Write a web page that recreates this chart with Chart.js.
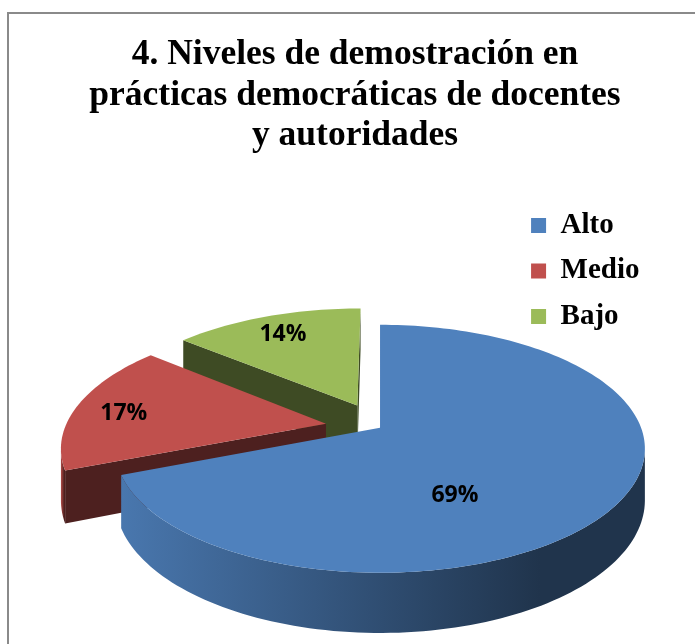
<!DOCTYPE html>
<html lang="es">
<head>
<meta charset="utf-8">
<title>Niveles de demostración en prácticas democráticas</title>
<script src="https://cdn.jsdelivr.net/npm/chart.js@4.4.1/dist/chart.umd.min.js"></script>
<style>
    html, body { margin: 0; padding: 0; background: #fff; overflow: hidden; }
    .frame {
        position: absolute; left: 7px; top: 12px;
        width: 720px; height: 720px;
        border: 2px solid #8a8a8a;
    }
    .chart-title {
        position: absolute; left: 11px; top: 32px; width: 688px;
        text-align: center; color: #000; z-index: 2;
        font: bold 35.5px/40.5px 'Liberation Serif', 'Times New Roman', serif;
    }
    #pie { position: absolute; left: 0; top: 0; z-index: 1; }
</style>
</head>
<body>
<div class="frame"></div>
<div class="chart-title">4. Niveles de demostración en<br>prácticas democráticas de docentes<br>y autoridades</div>
<canvas id="pie" width="695" height="703"></canvas>
<script>
// Data
const categories = ['Alto', 'Medio', 'Bajo'];
const percentages = [69, 17, 14];

// darken a hex colour by a factor
function shade(hex, f) {
    const n = parseInt(hex.slice(1), 16);
    const r = Math.round(((n >> 16) & 255) * f);
    const g = Math.round(((n >> 8) & 255) * f);
    const b = Math.round((n & 255) * f);
    return 'rgb(' + r + ',' + g + ',' + b + ')';
}

// Draws the arcs computed by Chart.js as an exploded 3D pie seen in perspective
const pie3d = {
    id: 'pie3d',
    beforeDatasetsDraw(chart, args, opts) {
        const ctx = chart.ctx;
        const arcs = chart.getDatasetMeta(0).data;
        if (!arcs.length) return;

        const cx = arcs[0].x, cy = arcs[0].y, R = arcs[0].outerRadius;
        const p = opts.perspective, tilt = opts.tilt, depth = opts.depth;

        // plane coords (w, s) in radius units -> screen
        function project(w, s, low) {
            const q = 1 + p * s;
            return {
                x: cx + R * w / q,
                y: cy + R * tilt * (s + p) / q + (low ? depth / q : 0)
            };
        }

        const slices = arcs.map((arc, i) => {
            const a0 = arc.startAngle, a1 = arc.endAngle;
            const mid = (a0 + a1) / 2;
            const shift = (arc.options.offset || 0) / R;
            const ox = shift * Math.cos(mid), oy = shift * Math.sin(mid);
            const n = Math.max(6, Math.ceil((a1 - a0) / (Math.PI / 120)));
            const angles = [];
            for (let k = 0; k <= n; k++) angles.push(a0 + (a1 - a0) * k / n);
            return {
                index: i, mid, ox, oy,
                color: arc.options.backgroundColor,
                start: a0, end: a1,
                centre: project(ox, oy, false),
                inner: project(ox + 0.5 * Math.cos(mid), oy + 0.5 * Math.sin(mid), false),
                ring: angles.map(a => project(ox + Math.cos(a), oy + Math.sin(a), false)),
                ringLow: angles.map(a => project(ox + Math.cos(a), oy + Math.sin(a), true))
            };
        });

        function radialFace(sl, angle) {
            const c = sl.centre;
            const e = project(sl.ox + Math.cos(angle), sl.oy + Math.sin(angle), false);
            const dx = e.x - c.x, dy = e.y - c.y;
            const side = dx * (sl.inner.y - c.y) - dy * (sl.inner.x - c.x);
            if (Math.abs(dx) < 1 || side * dx > 0) return;
            const cl = project(sl.ox, sl.oy, true);
            const elow = project(sl.ox + Math.cos(angle), sl.oy + Math.sin(angle), true);
            ctx.beginPath();
            ctx.moveTo(c.x, c.y);
            ctx.lineTo(e.x, e.y);
            ctx.lineTo(elow.x, elow.y);
            ctx.lineTo(cl.x, cl.y);
            ctx.closePath();
            ctx.fillStyle = shade(sl.color, opts.faceShade);
            ctx.fill();
        }

        function outerWall(sl) {
            const runs = [];
            let run = [];
            for (let k = 0; k < sl.ring.length - 1; k++) {
                if (sl.ring[k + 1].x < sl.ring[k].x) {
                    if (!run.length) run.push(k);
                    run.push(k + 1);
                } else if (run.length) {
                    runs.push(run);
                    run = [];
                }
            }
            if (run.length) runs.push(run);

            runs.forEach(r => {
                const top = r.map(k => sl.ring[k]);
                const low = r.map(k => sl.ringLow[k]);
                const xs = top.map(pt => pt.x);
                const x0 = Math.min(...xs), x1 = Math.max(Math.max(...xs), x0 + 1);
                const grad = ctx.createLinearGradient(x0, 0, x1, 0);
                opts.wallShades.forEach(st => grad.addColorStop(st[0], shade(sl.color, st[1])));
                ctx.beginPath();
                top.forEach((pt, j) => j ? ctx.lineTo(pt.x, pt.y) : ctx.moveTo(pt.x, pt.y));
                for (let j = low.length - 1; j >= 0; j--) ctx.lineTo(low[j].x, low[j].y);
                ctx.closePath();
                ctx.fillStyle = grad;
                ctx.fill();
            });
        }

        ctx.save();

        // sides, back to front
        slices.slice().sort((a, b) => a.inner.y - b.inner.y).forEach(sl => {
            radialFace(sl, sl.start);
            radialFace(sl, sl.end);
            outerWall(sl);
        });

        // top faces
        slices.forEach(sl => {
            ctx.beginPath();
            ctx.moveTo(sl.centre.x, sl.centre.y);
            sl.ring.forEach(pt => ctx.lineTo(pt.x, pt.y));
            ctx.closePath();
            ctx.fillStyle = sl.color;
            ctx.fill();
        });

        // percentage labels, pushed out from the centroid of each top face
        const values = chart.data.datasets[0].data;
        const total = values.reduce((a, b) => a + b, 0);
        ctx.font = opts.labelFont;
        ctx.fillStyle = '#000';
        ctx.textAlign = 'center';
        ctx.textBaseline = 'middle';
        slices.forEach(sl => {
            const pts = [sl.centre].concat(sl.ring);
            let A = 0, X = 0, Y = 0;
            for (let i = 0; i < pts.length; i++) {
                const a = pts[i], b = pts[(i + 1) % pts.length];
                const c = a.x * b.y - b.x * a.y;
                A += c; X += (a.x + b.x) * c; Y += (a.y + b.y) * c;
            }
            const gx = X / (3 * A), gy = Y / (3 * A);
            const push = opts.labelPush + opts.labelPushPerRad * (sl.end - sl.start);
            const lx = sl.centre.x + push * (gx - sl.centre.x);
            const ly = sl.centre.y + push * (gy - sl.centre.y);
            ctx.fillText(Math.round(values[sl.index] / total * 100) + '%', lx, ly);
        });

        ctx.restore();
        return false;
    }
};

Chart.defaults.font.family = "'Liberation Serif', 'Times New Roman', serif";

new Chart(document.getElementById('pie'), {
    type: 'pie',
    data: {
        labels: categories,
        datasets: [{
            data: percentages,
            backgroundColor: ['#4F81BD', '#C0504D', '#9BBB59'],
            borderWidth: 0,
            offset: [0, 55, 55],
            radius: 261
        }]
    },
    options: {
        responsive: false,
        animation: false,
        events: [],
        layout: {
            padding: { left: 245.5, right: 45.5, top: 194.5, bottom: 0 }
        },
        plugins: {
            legend: {
                position: 'right',
                align: 'start',
                fullSize: false,
                labels: {
                    boxWidth: 15,
                    boxHeight: 15,
                    padding: 16.5,
                    color: '#000',
                    font: { size: 29, weight: 'bold' }
                }
            },
            tooltip: { enabled: false },
            pie3d: {
                tilt: 0.475,
                perspective: -0.17,
                depth: 50,
                faceShade: 0.4,
                wallShades: [[0, 0.92], [0.5, 0.6], [0.8, 0.4], [1, 0.4]],
                labelFont: "bold 23px 'Open Sans', sans-serif",
                labelPush: 1.1,
                labelPushPerRad: 0.15
            }
        }
    },
    plugins: [pie3d]
});
</script>
</body>
</html>
